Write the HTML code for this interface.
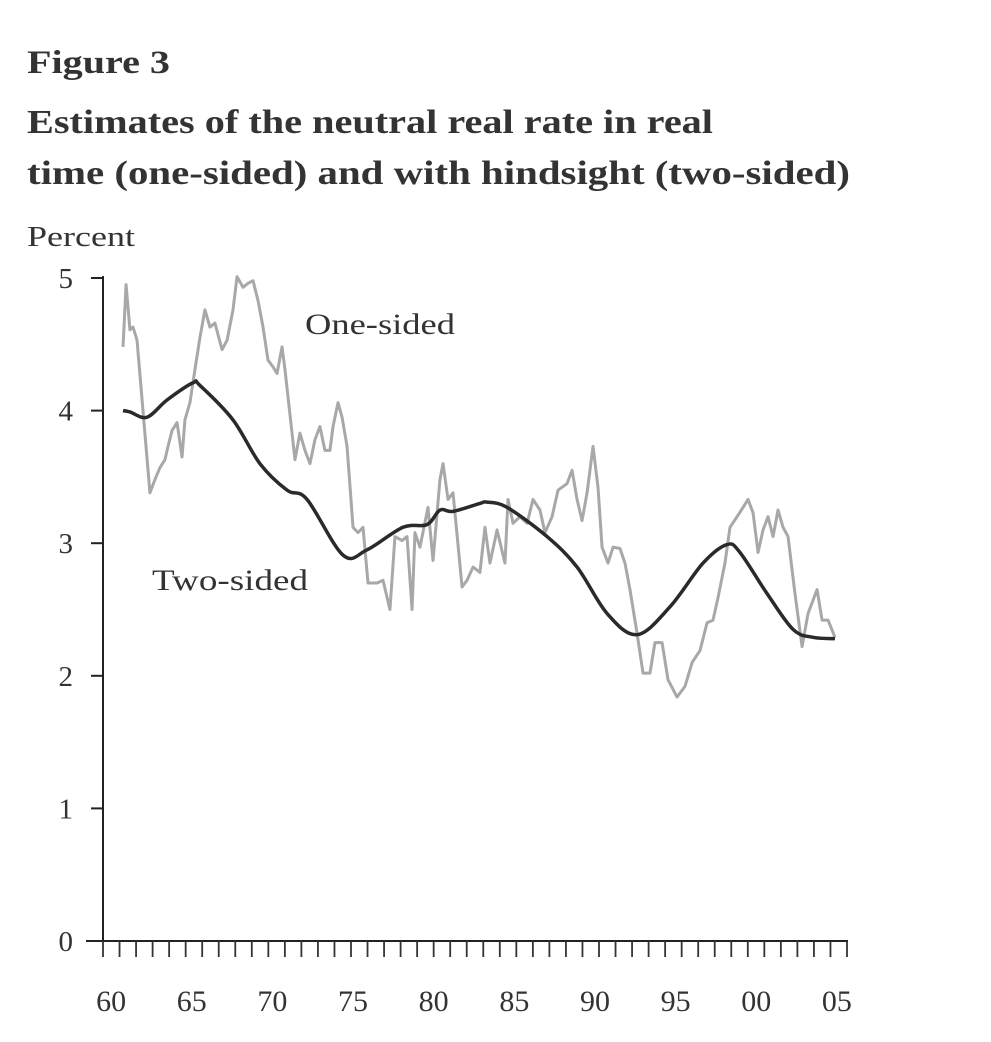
<!DOCTYPE html>
<html><head><meta charset="utf-8"><style>
html,body{margin:0;padding:0;background:#fff;}
svg{display:block;font-family:"Liberation Serif",serif;}
</style></head><body>
<svg width="991" height="1042" viewBox="0 0 991 1042">
<text x="27" y="73" font-size="33" font-weight="bold" fill="#333" textLength="143" lengthAdjust="spacingAndGlyphs">Figure 3</text>
<text x="27" y="133" font-size="34" font-weight="bold" fill="#333" textLength="686" lengthAdjust="spacingAndGlyphs">Estimates of the neutral real rate in real</text>
<text x="27" y="184" font-size="34" font-weight="bold" fill="#333" textLength="823" lengthAdjust="spacingAndGlyphs">time (one-sided) and with hindsight (two-sided)</text>
<text x="27" y="246" font-size="28" fill="#333" textLength="108" lengthAdjust="spacingAndGlyphs">Percent</text>
<g id="axes"></g>
<g id="series"></g>
<text x="305" y="334" font-size="30" fill="#333" textLength="150" lengthAdjust="spacingAndGlyphs">One-sided</text>
<text x="152" y="590" font-size="30" fill="#333" textLength="156" lengthAdjust="spacingAndGlyphs">Two-sided</text>
</svg>
<script>
const yTicks=[0,1,2,3,4,5];
const xLabels=["60","65","70","75","80","85","90","95","00","05"];
const xLabelYears=[1960,1965,1970,1975,1980,1985,1990,1995,2000,2005];
const oneYears=[1961.24,1961.43,1961.67,1961.86,1962.11,1962.91,1963.22,1963.53,1963.84,1964.03,1964.28,1964.59,1964.90,1965.08,1965.39,1965.70,1966.01,1966.32,1966.63,1966.94,1967.38,1967.69,1968.06,1968.31,1968.68,1968.99,1969.30,1969.61,1969.92,1970.23,1970.54,1970.79,1971.10,1971.28,1971.72,1971.90,1972.21,1972.52,1972.83,1973.14,1973.45,1973.76,1974.07,1974.26,1974.57,1974.82,1975.13,1975.50,1975.81,1976.12,1976.43,1976.99,1977.36,1977.79,1978.10,1978.54,1978.85,1979.16,1979.34,1979.65,1980.15,1980.46,1980.89,1981.08,1981.39,1981.70,1982.26,1982.57,1982.94,1983.37,1983.68,1983.99,1984.43,1984.92,1985.11,1985.42,1985.85,1986.29,1986.66,1987.09,1987.40,1987.84,1988.21,1988.77,1989.08,1989.39,1989.70,1990.01,1990.38,1990.69,1990.94,1991.31,1991.62,1992.05,1992.36,1992.67,1993.11,1993.48,1993.91,1994.22,1994.66,1995.03,1995.59,1996.08,1996.52,1997.01,1997.45,1997.82,1998.13,1998.56,1998.87,1999.31,1999.68,1999.99,2000.30,2000.61,2000.92,2001.23,2001.54,2001.85,2002.16,2002.47,2002.90,2003.34,2003.71,2004.27,2004.58,2004.95,2005.38];
const oneValues=[4.48,4.95,4.61,4.63,4.53,3.38,3.48,3.57,3.63,3.73,3.85,3.91,3.65,3.93,4.06,4.31,4.55,4.76,4.63,4.66,4.46,4.53,4.76,5.01,4.93,4.96,4.98,4.83,4.63,4.38,4.33,4.28,4.48,4.31,3.83,3.63,3.83,3.70,3.60,3.78,3.88,3.70,3.70,3.88,4.06,3.95,3.73,3.12,3.08,3.12,2.70,2.70,2.72,2.50,3.05,3.02,3.05,2.50,3.08,2.97,3.27,2.87,3.48,3.60,3.33,3.38,2.67,2.72,2.82,2.78,3.12,2.85,3.10,2.85,3.33,3.15,3.20,3.15,3.33,3.25,3.08,3.20,3.40,3.45,3.55,3.33,3.17,3.38,3.73,3.42,2.97,2.85,2.97,2.96,2.85,2.65,2.32,2.02,2.02,2.25,2.25,1.97,1.84,1.92,2.10,2.19,2.40,2.42,2.59,2.85,3.12,3.20,3.27,3.33,3.23,2.93,3.10,3.20,3.05,3.25,3.12,3.05,2.62,2.22,2.47,2.65,2.42,2.42,2.29];
const twoYears=[1961.24,1961.67,1962.73,1963.97,1965.58,1966.01,1968.06,1969.73,1971.41,1972.65,1974.88,1976.37,1978.60,1980.09,1980.89,1981.70,1983.37,1983.81,1985.05,1987.53,1989.39,1991.25,1993.11,1995.15,1997.20,1998.69,1999.49,2001.17,2002.78,2004.02,2005.38];
const twoValues=[4.00,3.99,3.95,4.08,4.21,4.19,3.93,3.60,3.40,3.33,2.91,2.95,3.12,3.14,3.25,3.24,3.30,3.31,3.27,3.05,2.82,2.47,2.31,2.52,2.85,2.99,2.93,2.62,2.35,2.29,2.28];

const NS="http://www.w3.org/2000/svg";
const X0=103,XPX=16.13,Y0=941,YPX=132.6;
function xs(t){return X0+(t-1960)*XPX;}
function ys(v){return Y0-v*YPX;}
function mk(tag,attrs,parent){const e=document.createElementNS(NS,tag);for(const k in attrs)e.setAttribute(k,attrs[k]);parent.appendChild(e);return e;}
const axes=document.getElementById('axes'),series=document.getElementById('series');
const yAxis=mk('line',{x1:X0,y1:ys(5)-2,x2:X0,y2:Y0,stroke:'#222','stroke-width':2},axes);


const xAxis=mk('line',{x1:86,y1:Y0,x2:848,y2:Y0,stroke:'#222','stroke-width':2},axes);


yTicks.forEach(v=>{
  const t=mk('line',{x1:91,y1:ys(v),x2:X0,y2:ys(v),stroke:'#222','stroke-width':2},axes);
  
  
  const l=mk('text',{x:73,y:ys(v)+10,'font-size':29,'text-anchor':'end',fill:'#333'},axes);
  l.textContent=v;
  
  
});
const tickEnd=847;const nT=45;
for(let i=0;i<=nT;i++){
  const x=X0+(tickEnd-X0)*i/nT;
  const t=mk('line',{x1:x,y1:Y0,x2:x,y2:Y0+16,stroke:'#333','stroke-width':1.8},axes);
  
  
}
xLabels.forEach((s,i)=>{
  const l=mk('text',{x:xs(xLabelYears[i]+0.5),y:1011,'font-size':30,'text-anchor':'middle',fill:'#333'},axes);
  l.textContent=s;
  
  
});
const p1=mk('polyline',{points:oneYears.map((t,i)=>xs(t)+','+ys(oneValues[i])).join(' '),fill:'none',stroke:'#a8a8a8','stroke-width':3,'stroke-linejoin':'round'},series);


const pts=twoYears.map((t,i)=>[xs(t),ys(twoValues[i])]);
let d='M'+pts[0][0]+','+pts[0][1];
for(let i=0;i<pts.length-1;i++){
  const p0=pts[Math.max(0,i-1)],a=pts[i],b=pts[i+1],p3=pts[Math.min(pts.length-1,i+2)];
  const c1=[a[0]+(b[0]-p0[0])/6,a[1]+(b[1]-p0[1])/6],c2=[b[0]-(p3[0]-a[0])/6,b[1]-(p3[1]-a[1])/6];
  d+=' C'+c1[0]+','+c1[1]+' '+c2[0]+','+c2[1]+' '+b[0]+','+b[1];
}
const p2=mk('path',{d:d,fill:'none',stroke:'#2a2a2a','stroke-width':3.5,'stroke-linejoin':'round'},series);


</script>
</body></html>
